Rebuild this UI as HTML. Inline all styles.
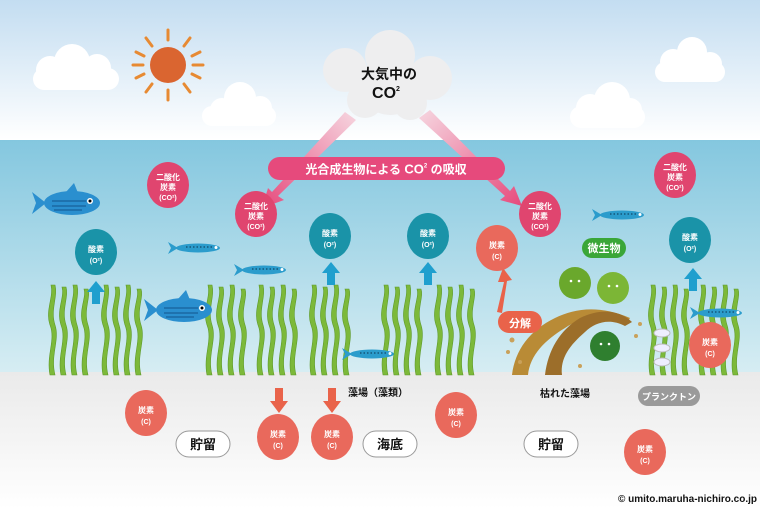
<!DOCTYPE html>
<html><head><meta charset="utf-8"><style>
html,body{margin:0;padding:0;width:760px;height:509px;overflow:hidden;background:#fff}
svg text{font-family:"Liberation Sans","Noto Sans CJK JP",sans-serif;font-weight:bold}
</style></head><body>
<svg width="760" height="509" viewBox="0 0 760 509" xmlns="http://www.w3.org/2000/svg">
<defs>
<linearGradient id="sky" x1="0" y1="0" x2="0" y2="1"><stop offset="0" stop-color="#c3ddf1"/><stop offset="1" stop-color="#ffffff"/></linearGradient>
<linearGradient id="sea" x1="0" y1="0" x2="0" y2="1"><stop offset="0" stop-color="#84c7df"/><stop offset="1" stop-color="#d6edf3"/></linearGradient>
<linearGradient id="bed" x1="0" y1="0" x2="0" y2="1"><stop offset="0" stop-color="#eaeaea"/><stop offset="1" stop-color="#ffffff"/></linearGradient>
<linearGradient id="arL" x1="1" y1="0" x2="0" y2="1"><stop offset="0" stop-color="#f6d6e0"/><stop offset="1" stop-color="#e64a7c"/></linearGradient>
<linearGradient id="arR" x1="0" y1="0" x2="1" y2="1"><stop offset="0" stop-color="#f6d6e0"/><stop offset="1" stop-color="#e64a7c"/></linearGradient>
<g id="weed" fill="#7cb93a" stroke="#5e9a2a" stroke-width="0.6">
<path d="M0,90 C-4,70 6,55 0,40 C-5,25 4,12 1,0 L5,0 C8,12 0,25 5,40 C10,55 0,70 5,90Z"/>
<path d="M11,90 C7,70 17,55 11,40 C6,25 15,12 12,2 L16,2 C19,12 11,25 16,40 C21,55 11,70 16,90Z"/>
<path d="M22,90 C18,70 28,55 22,40 C17,25 26,12 23,0 L27,0 C30,12 22,25 27,40 C32,55 22,70 27,90Z"/>
<path d="M33,90 C29,70 39,55 33,40 C28,25 37,12 34,4 L38,4 C41,12 33,25 38,40 C43,55 33,70 38,90Z"/>
</g>
<g id="fishB"><ellipse cx="0" cy="0" rx="28" ry="12" fill="#2a8fcf"/><path d="M-26,0 L-40,-11 L-36,0 L-40,11Z" fill="#2a8fcf"/><path d="M-6,-11 L2,-20 L6,-10Z" fill="#2a8fcf"/><path d="M-20,-2 H14 M-20,3 H14 M-18,7 H10" stroke="#17609a" stroke-width="1.2"/><circle cx="18" cy="-2" r="3" fill="#fff"/><circle cx="18" cy="-2" r="1.5" fill="#000"/></g>
<g id="fishS"><ellipse cx="0" cy="0" rx="22" ry="4.5" fill="#2b9ccc"/><path d="M-20,0 L-30,-6 L-27,0 L-30,6Z" fill="#2b9ccc"/><path d="M-12,-1 H14" stroke="#16577a" stroke-width="1.5" stroke-dasharray="1.5 2"/><circle cx="18" cy="-0.5" r="1.5" fill="#fff"/></g>
</defs>
<rect width="760" height="140" fill="url(#sky)"/>
<rect y="140" width="760" height="232" fill="url(#sea)"/>
<rect y="372" width="760" height="137" fill="url(#bed)"/>
<!-- clouds -->
<g fill="#fff">
<circle cx="50" cy="70" r="14"/><circle cx="72" cy="62" r="18"/><circle cx="97" cy="68" r="14"/><rect x="33" y="68" width="86" height="22" rx="11"/>
<circle cx="222" cy="110" r="12"/><circle cx="240" cy="98" r="16"/><circle cx="260" cy="108" r="12"/><rect x="202" y="106" width="74" height="20" rx="10"/>
<circle cx="590" cy="108" r="14"/><circle cx="612" cy="100" r="18"/><circle cx="630" cy="110" r="12"/><rect x="570" y="106" width="75" height="22" rx="11"/>
<circle cx="673" cy="62" r="13"/><circle cx="692" cy="52" r="15"/><circle cx="710" cy="64" r="12"/><rect x="655" y="62" width="70" height="20" rx="10"/>
</g>
<!-- sun -->
<g stroke="#e78a33" stroke-width="3" stroke-linecap="round">
<line x1="168" y1="30" x2="168" y2="40"/><line x1="168" y1="90" x2="168" y2="100"/><line x1="133" y1="65" x2="143" y2="65"/><line x1="193" y1="65" x2="203" y2="65"/>
<line x1="146" y1="38" x2="152" y2="46"/><line x1="190" y1="38" x2="184" y2="46"/><line x1="146" y1="92" x2="152" y2="84"/><line x1="190" y1="92" x2="184" y2="84"/>
<line x1="136" y1="52" x2="144" y2="56"/><line x1="200" y1="52" x2="192" y2="56"/><line x1="136" y1="78" x2="144" y2="74"/><line x1="200" y1="78" x2="192" y2="74"/>
</g>
<circle cx="168" cy="65" r="18" fill="#da6530"/>
<!-- central cloud -->
<g fill="#eeeeef">
<circle cx="345" cy="70" r="22"/><circle cx="390" cy="55" r="25"/><circle cx="430" cy="78" r="22"/><circle cx="365" cy="100" r="18"/><circle cx="410" cy="103" r="17"/><circle cx="390" cy="85" r="30"/>
</g>
<text x="389" y="79" font-size="14" text-anchor="middle" fill="#111">大気中の</text>
<text x="386" y="98" font-size="16" text-anchor="middle" fill="#111">CO<tspan font-size="7" dy="-7">2</tspan></text>
<!-- pink arrows -->
<path d="M345,112 L356,120 L278,196 L284,200 L262,208 L268,188 L272,192Z" fill="url(#arL)"/>
<path d="M430,110 L419,118 L505,196 L500,200 L522,206 L514,186 L510,191Z" fill="url(#arR)"/>
<rect x="268" y="157" width="237" height="23" rx="11.5" fill="#e64a7c"/>
<text x="386" y="173.5" font-size="12" text-anchor="middle" fill="#fff">光合成生物による <tspan font-size="13">CO</tspan><tspan font-size="6" dy="-6">2</tspan><tspan dy="6"> の吸収</tspan></text>
<!-- seaweed -->
<use href="#weed" x="50" y="285"/><use href="#weed" x="103" y="285"/><use href="#weed" x="207" y="285"/><use href="#weed" x="258" y="285"/><use href="#weed" x="311" y="285"/><use href="#weed" x="383" y="285"/><use href="#weed" x="436" y="285"/><use href="#weed" x="650" y="285"/><use href="#weed" x="700" y="285"/>
<!-- plankton shrimp -->
<g fill="#eef" stroke="#bbb" stroke-width="1"><ellipse cx="662" cy="333" rx="8" ry="4"/><ellipse cx="662" cy="348" rx="8" ry="4"/><ellipse cx="662" cy="362" rx="8" ry="4"/></g>
<!-- dead seaweed -->
<g fill="#b98b36">
<path d="M512,375 C515,350 530,330 555,318 C575,308 600,305 630,318 L626,324 C600,313 580,318 565,328 C545,340 530,355 528,375Z"/>
<path d="M545,375 C548,350 560,330 580,318 C600,308 620,310 632,322 L625,326 C610,318 595,322 585,332 C570,345 560,358 562,375Z" fill="#9c6e2a"/>
</g>
<g fill="#c9a15a"><circle cx="512" cy="340" r="2.5"/><circle cx="508" cy="352" r="2"/><circle cx="520" cy="362" r="2"/><circle cx="580" cy="366" r="2"/><circle cx="636" cy="336" r="2"/><circle cx="640" cy="324" r="2"/></g>
<!-- microbes -->
<g><circle cx="575" cy="283" r="16" fill="#6aa82c"/><circle cx="613" cy="288" r="16" fill="#7cb636"/><circle cx="605" cy="346" r="15" fill="#2f7f2f"/></g>
<g fill="#fff"><circle cx="571" cy="281" r="1.3"/><circle cx="579" cy="281" r="1.3"/><circle cx="609" cy="286" r="1.3"/><circle cx="617" cy="286" r="1.3"/><circle cx="601" cy="344" r="1.3"/><circle cx="609" cy="344" r="1.3"/></g>
<!-- fish -->
<use href="#fishB" transform="translate(72,203)"/><use href="#fishB" transform="translate(184,310)"/>
<use href="#fishS" transform="translate(198,248)"/><use href="#fishS" transform="translate(264,270)"/><use href="#fishS" transform="translate(372,354)"/><use href="#fishS" transform="translate(622,215)"/><use href="#fishS" transform="translate(720,313)"/>
<!-- blue arrows -->
<g fill="#1f9fce">
<path d="M92,304 V292 H87 L96,281 L105,292 H100 V304Z"/>
<path d="M327,285 V273 H322 L331,262 L340,273 H335 V285Z"/>
<path d="M424,285 V273 H419 L428,262 L437,273 H432 V285Z"/>
<path d="M689,291 V279 H684 L693,268 L702,279 H697 V291Z"/>
</g>
<!-- red arrows -->
<g fill="#e9634a">
<path d="M275,388 V401 H270 L279,413 L288,401 H283 V388Z"/>
<path d="M328,388 V401 H323 L332,413 L341,401 H336 V388Z"/>
<path d="M497,312 L504,282 L498,282 L503,268 L512,280 L507,281 L502,313Z"/>
</g>
<!-- pills -->
<rect x="498" y="311" width="44" height="22" rx="11" fill="#e9634a"/><text x="520" y="327" font-size="11" text-anchor="middle" fill="#fff">分解</text>
<rect x="582" y="238" width="44" height="20" rx="10" fill="#3aa638"/><text x="604" y="252" font-size="11" text-anchor="middle" fill="#fff">微生物</text>
<rect x="638" y="386" width="62" height="20" rx="10" fill="#9a9a9a"/><text x="669" y="400" font-size="9" text-anchor="middle" fill="#fff">プランクトン</text>
<g fill="#fff" stroke="#999" stroke-width="1">
<rect x="176" y="431" width="54" height="26" rx="13"/><rect x="363" y="431" width="54" height="26" rx="13"/><rect x="524" y="431" width="54" height="26" rx="13"/></g>
<g font-size="13" text-anchor="middle" fill="#111"><text x="203" y="449">貯留</text><text x="390" y="449">海底</text><text x="551" y="449">貯留</text></g>
<text x="378" y="396" font-size="10" text-anchor="middle" fill="#111">藻場（藻類）</text>
<text x="565" y="397" font-size="10" text-anchor="middle" fill="#111">枯れた藻場</text>
<!-- CO2 circles -->
<g font-size="8" text-anchor="middle" fill="#fff">
<g transform="translate(168,185)"><ellipse rx="21" ry="23" fill="#e0456f"/><text y="-5">二酸化</text><text y="5">炭素</text><text y="15" font-size="7">(CO²)</text></g>
<g transform="translate(256,214)"><ellipse rx="21" ry="23" fill="#e0456f"/><text y="-5">二酸化</text><text y="5">炭素</text><text y="15" font-size="7">(CO²)</text></g>
<g transform="translate(540,214)"><ellipse rx="21" ry="23" fill="#e0456f"/><text y="-5">二酸化</text><text y="5">炭素</text><text y="15" font-size="7">(CO²)</text></g>
<g transform="translate(675,175)"><ellipse rx="21" ry="23" fill="#e0456f"/><text y="-5">二酸化</text><text y="5">炭素</text><text y="15" font-size="7">(CO²)</text></g>
<g transform="translate(96,252)"><ellipse rx="21" ry="23" fill="#1a93a8"/><text y="0">酸素</text><text y="11" font-size="7">(O²)</text></g>
<g transform="translate(330,236)"><ellipse rx="21" ry="23" fill="#1a93a8"/><text y="0">酸素</text><text y="11" font-size="7">(O²)</text></g>
<g transform="translate(428,236)"><ellipse rx="21" ry="23" fill="#1a93a8"/><text y="0">酸素</text><text y="11" font-size="7">(O²)</text></g>
<g transform="translate(690,240)"><ellipse rx="21" ry="23" fill="#1a93a8"/><text y="0">酸素</text><text y="11" font-size="7">(O²)</text></g>
<g transform="translate(497,248)"><ellipse rx="21" ry="23" fill="#e9695c"/><text y="0">炭素</text><text y="11" font-size="7">(C)</text></g>
<g transform="translate(146,413)"><ellipse rx="21" ry="23" fill="#e9695c"/><text y="0">炭素</text><text y="11" font-size="7">(C)</text></g>
<g transform="translate(278,437)"><ellipse rx="21" ry="23" fill="#e9695c"/><text y="0">炭素</text><text y="11" font-size="7">(C)</text></g>
<g transform="translate(332,437)"><ellipse rx="21" ry="23" fill="#e9695c"/><text y="0">炭素</text><text y="11" font-size="7">(C)</text></g>
<g transform="translate(456,415)"><ellipse rx="21" ry="23" fill="#e9695c"/><text y="0">炭素</text><text y="11" font-size="7">(C)</text></g>
<g transform="translate(645,452)"><ellipse rx="21" ry="23" fill="#e9695c"/><text y="0">炭素</text><text y="11" font-size="7">(C)</text></g>
<g transform="translate(710,345)"><ellipse rx="21" ry="23" fill="#e9695c"/><text y="0">炭素</text><text y="11" font-size="7">(C)</text></g>
</g>
<text x="757" y="502" font-size="10" text-anchor="end" fill="#111" font-weight="normal">© umito.maruha-nichiro.co.jp</text>
</svg>
</body></html>
